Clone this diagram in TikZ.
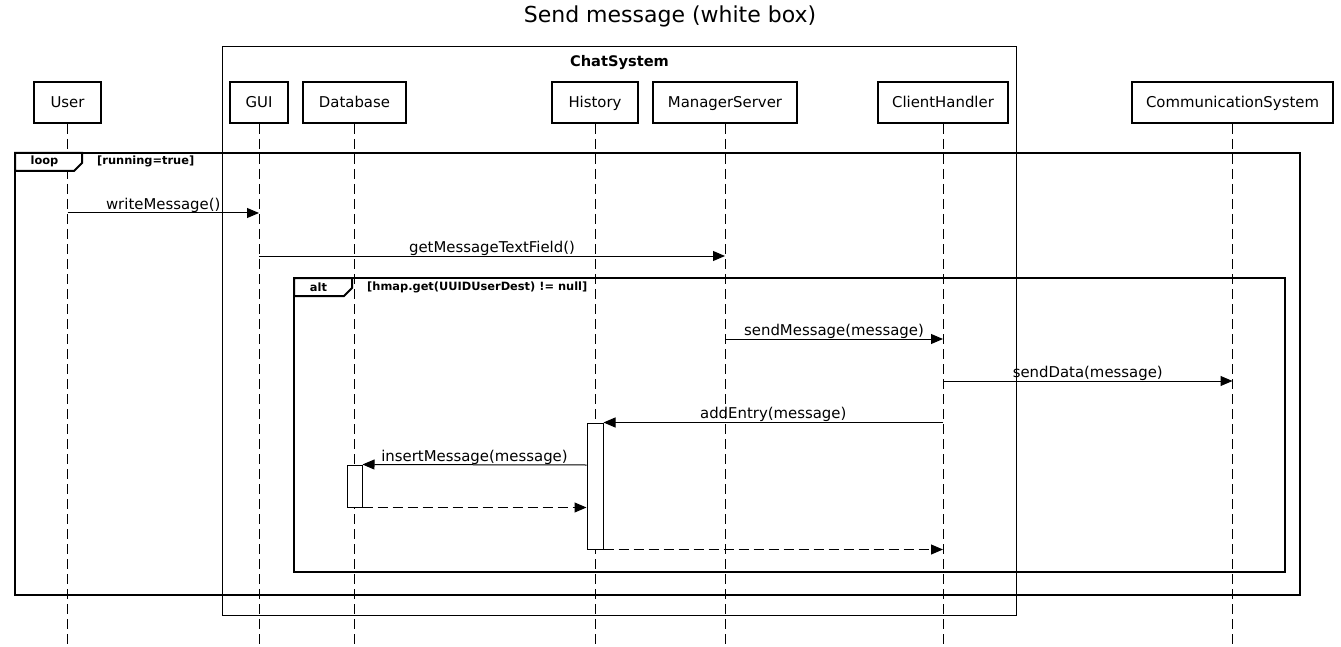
\documentclass[tikz,border=0pt]{standalone}
\usepackage{fontspec}
\setmainfont{DejaVu Sans}
\usetikzlibrary{arrows.meta}
\begin{document}
\begin{tikzpicture}[x=1pt,y=-1pt,
  actor/.style={draw,line width=2pt,fill=white,minimum height=41pt,inner sep=0pt,
                text height=11pt,text depth=0pt,
                font=\fontsize{14.9}{17}\selectfont},
  lifeline/.style={line width=1pt,dash pattern=on 10pt off 5pt},
  frame/.style={line width=2pt},
  tab/.style={line width=2pt,fill=white},
  tag/.style={font=\bfseries\fontsize{11.4}{13}\selectfont,inner sep=0pt},
  msg/.style={line width=1pt,-{Triangle[length=12pt,width=10pt]}},
  reply/.style={msg,dash pattern=on 10pt off 5pt},
  lbl/.style={font=\fontsize{14.9}{17}\selectfont,inner sep=0pt,
              text height=11pt,text depth=0pt,above=3.2pt},
  act/.style={draw,line width=1pt,fill=white,inner sep=0pt}
]
\useasboundingbox (0,0) rectangle (1341,647);

% title
\node[font=\fontsize{22}{26}\selectfont] (title) at (670,16) {Send message (white box)};

% system boundary
\draw[line width=1pt] (222,47) rectangle (1016,615);
\node[font=\bfseries\fontsize{14.6}{17}\selectfont] (sys) at (619.5,63) {ChatSystem};

% participants
\node[actor,minimum width=67pt]  (user)   at (67.5,102.5)  {User};
\node[actor,minimum width=58pt]  (gui)    at (259,102.5)   {GUI};
\node[actor,minimum width=103pt] (db)     at (354.5,102.5) {Database};
\node[actor,minimum width=86pt]  (hist)   at (595,102.5)   {History};
\node[actor,minimum width=144pt] (mgr)    at (725,102.5)   {ManagerServer};
\node[actor,minimum width=130pt] (client) at (943,102.5)   {ClientHandler};
\node[actor,minimum width=201pt] (comm)   at (1232.5,102.5){CommunicationSystem};

% lifelines
\coordinate (bottom) at (0,647);
\foreach \p in {user,gui,db,hist,mgr,client,comm}
  \draw[lifeline] (\p.south) -- (\p.south |- bottom);

% loop fragment
\draw[frame] (15,153) rectangle (1300,595);
\draw[tab] (15,153) -- (82,153) -- (82,163) -- (74,171) -- (15,171) -- cycle;
\node[tag] (looplbl) at (44.5,161) {loop};
\node[tag,anchor=west] (loopguard) at (97,161) {[running=true]};

% alt fragment
\draw[frame] (294,278) rectangle (1285,572);
\draw[tab] (294,278) -- (352,278) -- (352,288) -- (344,296) -- (294,296) -- cycle;
\node[tag] (altlbl) at (318.5,287) {alt};
\node[tag,anchor=west] (altguard) at (367,287) {[hmap.get(UUIDUserDest) != null]};

% activation bars
\node[act,minimum width=16pt,minimum height=126pt] (hact) at (595,486) {};
\node[act,minimum width=15pt,minimum height=42pt]  (dact) at (354.5,486) {};

% message rows
\coordinate (m1) at (0,213);
\coordinate (m2) at (0,256);
\coordinate (m3) at (0,339);
\coordinate (m4) at (0,381);
\coordinate (m6) at (0,465);

\draw[msg] (user.south |- m1) -- (gui.south |- m1) node[midway,lbl] (t1) {writeMessage()};
\draw[msg] (gui.south |- m2) -- (mgr.south |- m2) node[midway,lbl] (t2) {getMessageTextField()};
\draw[msg] (mgr.south |- m3) -- (client.south |- m3) node[midway,lbl] (t3) {sendMessage(message)};
\draw[msg] (client.south |- m4) -- (comm.south |- m4) node[midway,lbl] (t4) {sendData(message)};
\draw[msg] (client.south |- hact.north) -- (hact.north east) node[midway,lbl] (t5) {addEntry(message)};
\draw[msg] (hact.west |- m6) -- (dact.north east) node[midway,lbl] (t6) {insertMessage(message)};
\draw[reply] (dact.south east) -- (hact.west |- dact.south);
\draw[reply] (hact.south east) -- (client.south |- hact.south);
\end{tikzpicture}
\end{document}
